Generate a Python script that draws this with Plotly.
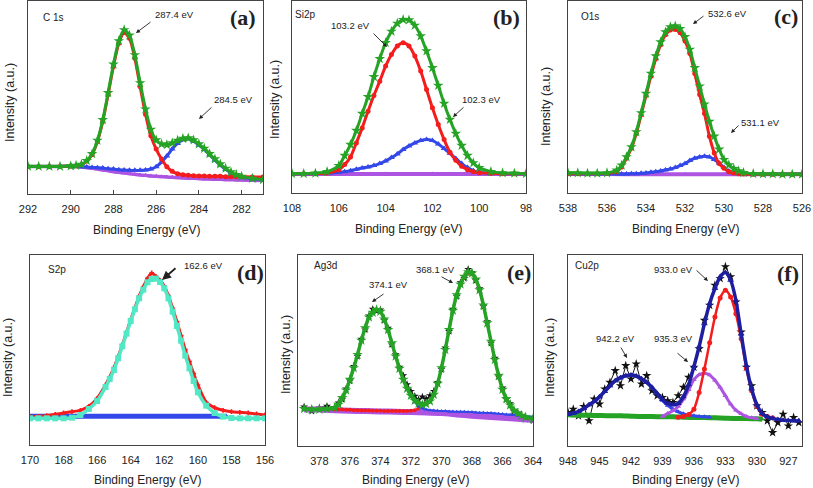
import plotly.graph_objects as go

W, H = 813, 488

# ---------------- data (intensities in arbitrary units) ----------------
# (a) C 1s
a_x = [292, 291.5, 291, 290.5, 290, 289.75, 289.5, 289.25, 289, 288.75, 288.5, 288.25, 288,
       287.75, 287.5, 287.25, 287, 286.75, 286.5, 286.25, 286, 285.75, 285.5, 285.25, 285,
       284.75, 284.5, 284.25, 284, 283.75, 283.5, 283.25, 283, 282.75, 282.5, 282.25, 282,
       281.5, 281]
a_fit = [83, 83, 83, 83, 84, 86, 89, 100, 121, 161, 223, 304, 390, 460, 493, 477, 418, 334,
         255, 194, 162, 150, 148, 153, 161, 167, 168, 162, 150, 137, 121, 105, 90, 77, 66, 58,
         53, 47, 43]
a_red = [83, 83, 83, 83, 84, 85, 88, 99, 119, 158, 218, 299, 383, 453, 485, 468, 408, 322,
         240, 175, 135, 105, 82, 68, 61, 58, 56, 55, 54, 54, 53, 53, 53, 52, 52, 52, 52, 51, 51]
a_blue = [83, 83, 83, 83, 83, 83, 82, 81, 80, 79, 78, 76, 75, 73, 72, 71, 71, 71, 72, 75, 82,
          96, 114, 135, 152, 163, 166, 159, 147, 134, 118, 102, 87, 74, 63, 56, 51, 46, 43]
a_bg = [83, 83, 83, 83, 83, 82, 81, 79, 77, 75, 72, 70, 67, 65, 63, 61, 59, 57, 56, 54, 53,
        52, 51, 50, 49, 48, 47, 47, 46, 45, 45, 44, 44, 43, 43, 42, 42, 41, 41]

# (b) Si2p
b_x = [108, 107.5, 107, 106.5, 106, 105.75, 105.5, 105.25, 105, 104.75, 104.5, 104.25, 104,
       103.75, 103.5, 103.25, 103, 102.75, 102.5, 102.25, 102, 101.75, 101.5, 101.25, 101,
       100.75, 100.5, 100.25, 100, 99.5, 99, 98.5, 98]
b_fit = [58, 58, 59, 64, 82, 112, 145, 187, 238, 288, 348, 402, 450, 484, 508, 519, 518, 502,
         470, 425, 375, 322, 268, 220, 178, 142, 112, 90, 76, 64, 60, 59, 58]
b_red = [58, 58, 58, 60, 70, 85, 108, 150, 195, 245, 292, 335, 380, 415, 440, 450, 440, 410,
         365, 310, 255, 205, 160, 122, 98, 80, 70, 64, 61, 59, 58, 58, 58]
b_blue = [58, 58, 58, 59, 62, 64, 67, 71, 75, 78, 82, 88, 96, 106, 117, 130, 141, 150, 157,
          160, 157, 147, 133, 119, 103, 88, 76, 67, 62, 59, 58, 58, 58]
b_bg_x = [108, 106, 104, 102, 100, 98]
b_bg = [57, 57, 57, 57, 57, 57]

# (c) O1s
c_x = [538, 537.5, 537, 536.5, 536, 535.5, 535.25, 535, 534.75, 534.5, 534.25, 534, 533.75,
       533.5, 533.25, 533, 532.75, 532.5, 532.25, 532, 531.75, 531.5, 531.25, 531, 530.75,
       530.5, 530.25, 530, 529.75, 529.5, 529.25, 529, 528.5, 528, 527.5, 527, 526.5, 526]
c_fit = [60, 60, 59, 59, 60, 68, 83, 108, 138, 183, 240, 298, 358, 410, 452, 482, 497, 500,
         492, 468, 430, 375, 320, 266, 214, 170, 131, 100, 84, 73, 66, 61, 58, 57, 57, 56, 56, 56]
c_red = [58, 58, 58, 58, 59, 64, 78, 104, 134, 178, 234, 292, 350, 402, 444, 474, 488, 490,
         480, 455, 418, 358, 295, 238, 170, 120, 88, 74, 64, 60, 58, 57, 56, 56, 56, 56, 56, 56]
c_blue = [57, 57, 57, 57, 57, 57, 57, 57, 58, 58, 59, 60, 62, 64, 66, 69, 72, 76, 82, 88, 97,
          104, 108, 110, 108, 100, 90, 76, 66, 61, 58, 57, 56, 56, 56, 56, 56, 56]
c_bg_x = [538, 536, 534, 532, 530, 528, 526]
c_bg = [57, 57, 56, 56, 56, 56, 56]

# (d) S2p
d_x = [170, 169.5, 169, 168.5, 168, 167.5, 167, 166.5, 166, 165.5, 165.25, 165, 164.75,
       164.5, 164.25, 164, 163.75, 163.5, 163.25, 163, 162.75, 162.5, 162.25, 162, 161.75,
       161.5, 161.25, 161, 160.75, 160.5, 160.25, 160, 159.5, 159, 158.5, 158, 157.5, 157,
       156.5, 156]
d_raw = [84, 86, 88, 92, 96, 100, 104, 116, 140, 180, 204, 232, 265, 300, 338, 376, 412, 446,
         474, 500, 516, 506, 494, 476, 448, 410, 370, 328, 286, 250, 214, 180, 128, 112, 104,
         100, 98, 96, 93, 90]
d_fit = [80, 80, 80, 80, 80, 82, 90, 108, 132, 174, 198, 225, 260, 296, 334, 372, 407, 440,
         466, 488, 498, 499, 489, 470, 440, 400, 357, 313, 268, 230, 192, 158, 118, 96, 85,
         81, 80, 80, 80, 80]
d_base_x = [170, 169, 168, 167, 166, 165, 164, 163, 162, 161, 160, 159, 158.3]
d_base = [86, 86, 86, 86, 86, 86, 86, 86, 86, 86, 86, 86, 86]

# (e) Ag3d
e_x = [379, 378.5, 378, 377.5, 377, 376.75, 376.5, 376.25, 376, 375.75, 375.5, 375.25, 375,
       374.75, 374.5, 374.25, 374, 373.75, 373.5, 373.25, 373, 372.75, 372.5, 372.25, 372,
       371.75, 371.5, 371.25, 371, 370.75, 370.5, 370.25, 370, 369.75, 369.5, 369.25, 369,
       368.75, 368.5, 368.25, 368, 367.75, 367.5, 367.25, 367, 366.75, 366.5, 366.25, 366,
       365.75, 365.5, 365.25, 365, 364.75, 364.5, 364]
e_raw = [118, 105, 115, 120, 112, 130, 140, 172, 196, 240, 270, 322, 350, 392, 412, 406, 410,
         378, 355, 305, 275, 238, 212, 185, 165, 150, 140, 148, 142, 152, 165, 192, 230, 296,
         345, 412, 450, 492, 505, 532, 522, 498, 474, 420, 375, 310, 265, 208, 175, 140, 128,
         104, 100, 88, 80, 76]
e_fit = [112, 110, 110, 112, 115, 125, 145, 168, 200, 235, 275, 318, 355, 388, 402, 410, 405,
         382, 350, 310, 270, 233, 200, 173, 152, 137, 128, 124, 127, 135, 155, 188, 235, 290,
         350, 408, 455, 487, 510, 524, 520, 502, 470, 424, 370, 315, 260, 212, 170, 142, 123,
         108, 98, 92, 87, 82]
e_red = [112, 112, 111, 111, 110, 110, 110, 109, 109, 108, 108, 107, 107, 107, 106, 106, 106,
         105, 105, 105, 105, 105, 105, 105, 106, 108, 113, 120, 126, 134, 153, 186, 232, 287,
         347, 405, 452, 484, 507, 521, 517, 499, 467, 421, 367, 312, 257, 209, 167, 139, 120,
         105, 95, 89, 85, 80]
e_blue = [112, 110, 110, 112, 114, 123, 143, 166, 198, 233, 273, 316, 353, 386, 400, 408, 403,
          380, 348, 308, 268, 231, 198, 170, 148, 132, 120, 113, 110, 108, 107, 106, 105, 105,
          104, 104, 103, 103, 103, 102, 102, 101, 100, 100, 99, 99, 98, 97, 96, 95, 94, 93,
          92, 91, 90, 88]
e_bg_x = [379, 378, 377, 376, 375, 374, 373, 372, 371, 370, 369, 368, 367, 366, 365, 364]
e_bg = [110, 110, 108, 106, 105, 104, 103, 102, 101, 99, 95, 91, 88, 85, 82, 78]

# (f) Cu2p
f_x = [948, 947.5, 947, 946.5, 946, 945.5, 945, 944.5, 944, 943.5, 943, 942.5, 942, 941.5,
       941, 940.5, 940, 939.5, 939, 938.5, 938, 937.5, 937, 936.5, 936, 935.5, 935, 934.5,
       934, 933.5, 933, 932.5, 932, 931.5, 931, 930.5, 930, 929.5, 929, 928.5, 928, 927.5,
       927, 926.5, 926]
f_raw = [100, 110, 90, 118, 75, 140, 125, 170, 190, 225, 180, 240, 200, 245, 185, 210, 165,
         150, 145, 135, 130, 150, 175, 205, 235, 290, 375, 420, 480, 500, 535, 505, 430, 340,
         235, 180, 120, 100, 75, 40, 70, 95, 60, 85, 70]
f_fit = [95, 98, 103, 112, 123, 133, 147, 163, 180, 195, 204, 210, 212, 209, 201, 190, 175,
         157, 139, 127, 123, 127, 147, 183, 237, 297, 365, 425, 470, 505, 518, 495, 435, 335,
         240, 170, 123, 97, 87, 82, 79, 77, 76, 75, 75]
f_sat_x = [948, 947.5, 947, 946.5, 946, 945.5, 945, 944.5, 944, 943.5, 943, 942.5, 942, 941.5,
           941, 940.5, 940, 939.5, 939, 938.5, 938, 937.5, 937, 936.5, 936, 935.5, 935, 934.5]
f_sat = [94, 97, 102, 111, 122, 132, 146, 162, 179, 194, 203, 209, 211, 208, 200, 189, 174,
         156, 136, 121, 110, 102, 96, 92, 90, 88, 87, 86]
f_p2_x = [939, 938.5, 938, 937.5, 937, 936.5, 936, 935.5, 935, 934.5, 934, 933.5, 933, 932.5,
          932, 931.5, 931, 930.5, 930]
f_p2 = [88, 97, 105, 118, 140, 168, 198, 213, 217, 212, 196, 175, 150, 125, 107, 96, 88, 84, 82]
f_p1_x = [937.5, 937, 936.5, 936, 935.5, 935, 934.5, 934, 933.5, 933, 932.5, 932, 931.5, 931,
          930.5, 930, 929.5, 929, 928.5]
f_p1 = [86, 88, 94, 110, 160, 230, 308, 385, 442, 465, 445, 395, 320, 232, 165, 118, 95, 88, 84]
f_bg_x = [948, 947, 946, 945, 944, 943, 942, 941, 940, 939, 938, 937, 936, 935, 934, 933, 932,
          931, 930, 929.5]
f_bg = [93, 92, 92, 91, 90, 90, 89, 88, 88, 87, 87, 86, 85, 85, 84, 83, 82, 82, 81, 80]

# ---------------- styling / layout ----------------
GREEN = "#25a325"
RED = "#f41c1c"
BLUE = "#3448ea"
PURPLE = "#ad55e2"
NAVY = "#1e1ea0"
CYAN = "#52e8c6"
BLACK = "#111111"
SANS = "Liberation Sans, Arial, sans-serif"
SERIF = "Liberation Serif, Times New Roman, serif"

boxes = {1: (28, 1, 263, 194), 2: (292, 1, 526, 193), 3: (568, 1, 802, 193),
         4: (30, 255, 265, 445), 5: (298, 255, 533, 446), 6: (568, 255, 802, 446)}
xranges = {1: [292, 281], 2: [108, 98], 3: [538, 526], 4: [170, 156], 5: [379.4, 364],
           6: [948, 925.7]}
yranges = {1: [0, 580], 2: [0, 575], 3: [0, 575], 4: [0, 570], 5: [0, 575], 6: [0, 570]}
dticks = {1: 2, 2: 2, 3: 2, 4: 2, 5: 2, 6: 3}

fig = go.Figure()


def sfx(i):
    return "" if i == 1 else str(i)


def add(i, x, y, color, symbol, size, lw, spline=True, mode="lines+markers"):
    fig.add_trace(go.Scatter(
        x=x, y=y, xaxis="x" + sfx(i), yaxis="y" + sfx(i), mode=mode,
        line=dict(color=color, width=lw, shape="spline" if spline else "linear", smoothing=0.7),
        marker=dict(symbol=symbol, size=size, color=color, line=dict(width=0)),
        showlegend=False, hoverinfo="skip"))


# (a)
add(1, a_x, a_bg, PURPLE, "triangle-up", 5, 3.5)
add(1, a_x, a_blue, BLUE, "triangle-up", 6, 3)
add(1, a_x, a_red, RED, "circle", 5, 3)
add(1, a_x, a_fit, GREEN, "star", 8, 3)
# (b)
add(2, b_bg_x, b_bg, PURPLE, "triangle-up", 5, 4)
add(2, b_x, b_blue, BLUE, "triangle-up", 6, 3)
add(2, b_x, b_red, RED, "circle", 5, 3)
add(2, b_x, b_fit, GREEN, "star", 8, 3)
# (c)
add(3, c_bg_x, c_bg, PURPLE, "triangle-up", 5, 4)
add(3, c_x, c_blue, BLUE, "triangle-up", 6, 3)
add(3, c_x, c_red, RED, "circle", 5, 3)
add(3, c_x, c_fit, GREEN, "star", 8, 3)
# (d)
add(4, d_base_x, d_base, BLUE, "triangle-up", 5, 5)
add(4, d_x, d_raw, RED, "cross", 4, 3)
add(4, d_x, d_fit, CYAN, "square", 6, 3.5)
# (e)
add(5, e_x, e_raw, BLACK, "star", 6, 1, spline=False)
add(5, e_bg_x, e_bg, PURPLE, "triangle-up", 5, 6)
add(5, e_x, e_red, RED, "circle", 4, 2)
add(5, e_x, e_blue, BLUE, "triangle-up", 4, 2)
add(5, e_x, e_fit, GREEN, "star", 8, 3.5)
# (f)
add(6, f_x, f_raw, BLACK, "star", 7, 1, spline=False)
add(6, f_bg_x, f_bg, GREEN, "triangle-up", 5, 5)
add(6, f_sat_x, f_sat, BLUE, "triangle-up", 5, 3)
add(6, f_p2_x, f_p2, PURPLE, "triangle-up", 5, 3)
add(6, f_p1_x, f_p1, RED, "circle", 5, 2.5)
add(6, f_x, f_fit, NAVY, "triangle-up", 6, 3.5)

layout = dict(width=W, height=H, margin=dict(l=0, r=0, t=0, b=0, pad=0, autoexpand=False),
              paper_bgcolor="white", plot_bgcolor="white", showlegend=False)
for i in range(1, 7):
    x0, y0, x1, y1 = boxes[i]
    layout["xaxis" + sfx(i)] = dict(
        domain=[x0 / W, x1 / W], range=xranges[i], anchor="y" + sfx(i),
        dtick=dticks[i], tick0=0, showgrid=False, zeroline=False, automargin=False,
        showline=True, mirror=True, linecolor="#444444", linewidth=1,
        ticks="inside" if i == 1 else "", ticklen=4, tickcolor="#444444",
        ticklabelstandoff=5,
        tickfont=dict(family=SANS, size=11, color="#222222"))
    layout["yaxis" + sfx(i)] = dict(
        domain=[1 - y1 / H, 1 - y0 / H], range=yranges[i], anchor="x" + sfx(i),
        showgrid=False, zeroline=False, showticklabels=False, ticks="", automargin=False,
        showline=True, mirror=True, linecolor="#444444", linewidth=1)
fig.update_layout(**layout)


def P(x, y):
    return x / W, 1 - y / H


ann = []


def text(x, y, s, size=10, family=SANS, bold=False, angle=0):
    px, py = P(x, y)
    ann.append(dict(x=px, y=py, xref="paper", yref="paper", text=("<b>%s</b>" % s) if bold else s,
                    showarrow=False, xanchor="center", yanchor="middle", textangle=angle,
                    font=dict(family=family, size=size, color="#222222")))


def arrow(tx, ty, hx, hy, width=0.9, size=0.9):
    px, py = P(hx, hy)
    ann.append(dict(x=px, y=py, xref="paper", yref="paper", text="", showarrow=True,
                    ax=tx - hx, ay=ty - hy, arrowhead=2, arrowsize=size,
                    arrowwidth=width, arrowcolor="#222222"))


# panel letters
for (x, y, s) in [(243, 18, "(a)"), (506, 17, "(b)"), (786, 16, "(c)"),
                  (251, 272, "(d)"), (519, 272, "(e)"), (788, 273, "(f)")]:
    text(x, y, s, size=22, family=SERIF, bold=True)
# element labels
for (x, y, s) in [(53, 17, "C 1s"), (305, 15, "Si2p"), (590, 16, "O1s"),
                  (57, 269, "S2p"), (325, 265, "Ag3d"), (587, 265, "Cu2p")]:
    text(x, y, s, size=10)
# peak labels
for (x, y, s) in [(174, 15, "287.4 eV"), (233, 99, "284.5 eV"), (350, 25, "103.2 eV"),
                  (482, 99, "102.3 eV"), (727, 14, "532.6 eV"), (760, 122, "531.1 eV"),
                  (203, 265, "162.6 eV"), (388, 284, "374.1 eV"), (436, 269, "368.1 eV"),
                  (673, 269, "933.0 eV"), (615, 338, "942.2 eV"), (673, 338, "935.3 eV")]:
    text(x, y, s, size=9.5)
# arrows
arrow(152, 21, 136, 33)
arrow(213, 106, 199, 119)
arrow(372, 32, 387, 47)
arrow(465, 106, 453, 117)
arrow(705, 15, 693, 24)
arrow(740, 124, 731, 133)
arrow(177, 267, 162, 280, width=1.8, size=1.0)
arrow(385, 293, 372, 302)
arrow(440, 276, 453, 283)
arrow(695, 269, 708, 281)
arrow(620, 346, 627, 358)
arrow(676, 352, 688, 362)

# axis titles
for (x, y) in [(146, 230), (409, 229), (685, 229), (147, 480), (415, 480), (685, 480)]:
    text(x, y, "Binding Energy (eV)", size=12)
for (x, y) in [(10, 103), (275, 100), (546, 107), (8, 358), (286, 355), (550, 358)]:
    text(x, y, "Intensity (a.u.)", size=12.5, angle=-90)

fig.update_layout(annotations=ann)
fig.write_html(
    "out.html",
    config={"displayModeBar": False, "staticPlot": True},
    post_script="document.body.style.margin='0';document.body.style.padding='0';"
                "document.documentElement.style.overflow='hidden';")
